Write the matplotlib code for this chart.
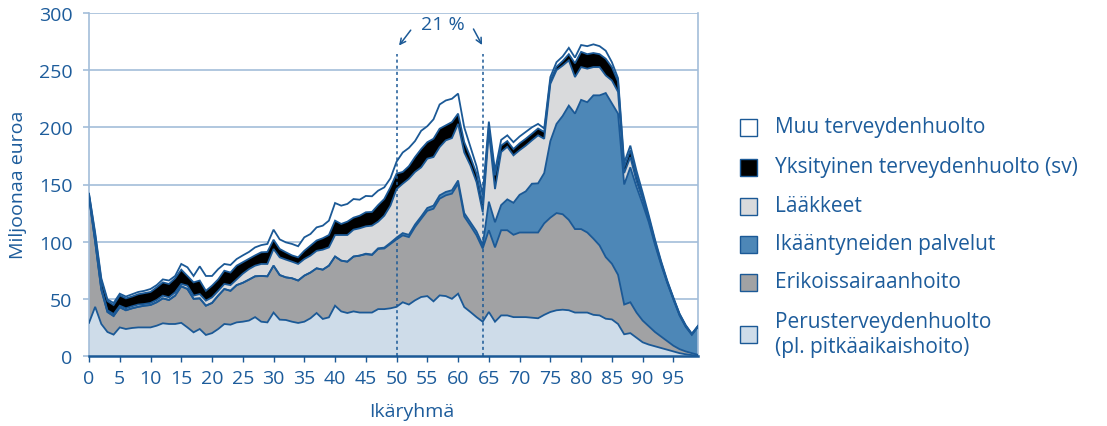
import numpy as np
import matplotlib
matplotlib.use("Agg")
import matplotlib.pyplot as plt
from matplotlib.patches import Rectangle

# ---------------- data (million euros by age group) ----------------
ages = list(range(0, 100))

# cumulative boundaries
b_perus = [29, 43, 28, 21, 18.7, 25, 23.6, 24.5, 25, 25,
           25, 26.5, 28.6, 28, 28, 29, 25, 20.7, 23.6, 18.4,
           20, 23.6, 28, 27.4, 29.4, 30, 31, 34, 30, 29.4,
           38, 31.8, 31.5, 30, 28.9, 30, 33, 37.6, 32.4, 33.8,
           44, 39, 37.6, 39, 38, 38, 38, 41, 41, 41.7,
           43, 47, 45, 48.7, 51.6, 52.4, 47.8, 53, 52.4, 50,
           54.5, 42.8, 38.5, 34, 30, 38.5, 30, 35.5, 35.5, 34,
           34, 34, 33.5, 33, 36, 38.5, 40, 40.5, 40, 38,
           38, 38, 36, 35.5, 32.6, 32, 28, 19, 20, 16,
           12, 10, 8.5, 7, 5.5, 4, 2.5, 1.5, 0.8, 0.3]
b_erik = [139, 100, 58, 38.5, 35, 42.6, 40, 41.7, 43, 44,
          44.6, 47, 50.4, 49, 52.8, 61, 58.6, 50, 50.4, 44,
          46.4, 52.8, 58.6, 57, 62, 64, 66.8, 69.7, 70, 69.7,
          79, 70.8, 68.8, 68, 66, 70.3, 73, 76.7, 75.5, 79,
          87, 83.4, 82.5, 87, 87.8, 89, 88.3, 93.6, 94, 98,
          102, 105.5, 104, 112.8, 120, 127, 128.8, 137.6, 140.5, 142,
          150.7, 122, 114, 105.5, 94, 110, 95, 110, 110, 106,
          108, 108, 108, 108, 116, 121, 125, 124, 119, 111,
          111, 108, 102.6, 96.7, 86.5, 80.7, 71, 45, 47, 38,
          31, 26, 21, 17, 13, 9, 6, 4, 2.5, 1]
b_ikaa = [139, 100, 58, 38.5, 35, 42.6, 40, 41.7, 43, 44,
          44.6, 47, 50.4, 49, 52.8, 61, 58.6, 50, 50.4, 44,
          46.4, 52.8, 58.6, 57, 62, 64, 66.8, 69.7, 70, 69.7,
          79, 70.8, 68.8, 68, 66, 70.3, 73, 76.7, 75.5, 79,
          87, 83.4, 82.5, 87, 87.8, 89.5, 88.8, 94.2, 94.8, 99,
          103.5, 107.5, 106, 115, 122, 129.5, 131.5, 140.5, 143.5, 145,
          153.5, 125, 117, 109, 97, 135, 117, 132, 137, 134,
          141, 144, 150.7, 151, 160, 188, 203, 210, 219, 212,
          224, 222, 228, 228, 230, 221, 212, 150, 165, 148,
          133, 117, 97.5, 80, 64, 49.5, 35.5, 25.5, 18.5, 25.5]
b_laak = [140, 102, 60, 40, 36.7, 44, 41.7, 43.5, 45, 45.5,
          46.4, 49, 52.8, 51.3, 55.7, 63, 61.5, 52.8, 54.2, 48.4,
          51.3, 57, 63, 62, 67, 72, 76, 79, 80.5, 80.5,
          93.6, 86.3, 84.3, 82.5, 80.5, 84.8, 87.8, 92, 93, 95,
          105.8, 105.8, 105.8, 110.5, 111.7, 113.4, 114, 117.5, 122.7, 131.5,
          146, 150.7, 155, 161, 165, 172.6, 174, 182.7, 188.6, 190.6,
          203, 178, 166.7, 152, 126, 196, 146, 178.4, 183, 175.5,
          180, 184, 188.6, 193, 190, 238, 250, 254, 258.6, 244,
          252.7, 251.3, 252.7, 252.7, 245.4, 241, 231, 160, 174, 153,
          137, 119, 99, 81, 64.5, 50, 36, 26, 19, 25.8]
b_yksi = [141.5, 106, 66, 48, 44.6, 53, 50.4, 52, 54, 55,
          56, 60, 64.4, 63, 68, 75.5, 70, 64.4, 66, 57,
          61.5, 67, 74.6, 73, 79, 82, 85, 88, 90.7, 91,
          101.7, 93.6, 90.7, 88, 86.3, 92, 96.5, 101, 103, 105.8,
          118.4, 115.5, 117.5, 121, 122.7, 125.7, 126, 132, 137.3, 147.5,
          159.5, 161, 166, 174, 181, 187, 190, 198.8, 201.7, 204.6,
          212, 187, 174, 159.5, 133, 200, 158, 184, 188, 181,
          186, 190, 194.4, 199, 196, 241, 253, 258, 264, 256,
          266, 264, 265, 264, 260, 252.7, 240, 165, 180, 158,
          140, 121, 100.5, 82, 65, 50.5, 36.5, 26.5, 19.2, 26]
b_muu = [142, 108, 68, 49.5, 46.4, 54.5, 52, 54, 56, 57,
         58.6, 62, 67, 66, 70, 80.5, 77.6, 70, 78.4, 70,
         70, 76, 80.5, 79.6, 84.8, 88, 91, 95, 97, 98,
         110.5, 102, 99.4, 98, 96, 103.8, 106.7, 112.5, 114, 118.4,
         133.8, 131.5, 133, 137.3, 136.7, 140, 139.7, 144.6, 147.5, 155.4,
         170, 178, 182, 188, 197, 201, 207, 220, 223.5, 225,
         229.5, 200, 183, 166, 141, 205, 162, 189, 193, 187,
         192, 196, 200, 203, 199, 244, 257, 262, 269.5, 261,
         272, 271, 272.6, 271, 267, 257, 243, 169, 184, 162,
         143, 123, 102, 83, 66, 51, 37, 27, 19.5, 26.5]

# individual series derived from the boundaries
perus = np.array(b_perus)
erikois = np.array(b_erik) - np.array(b_perus)
ikaantyneet = np.array(b_ikaa) - np.array(b_erik)
laakkeet = np.array(b_laak) - np.array(b_ikaa)
yksityinen = np.array(b_yksi) - np.array(b_laak)
muu = np.array(b_muu) - np.array(b_yksi)

series = [perus, erikois, ikaantyneet, laakkeet, yksityinen, muu]
series_colors = ["#cedce9", "#a1a2a4", "#4d87b7", "#d9dadc", "#000000", "#ffffff"]
legend_labels = ["Muu terveydenhuolto", "Yksityinen terveydenhuolto (sv)", "Lääkkeet",
                 "Ikääntyneiden palvelut", "Erikoissairaanhoito",
                 "Perusterveydenhuolto\n(pl. pitkäaikaishoito)"]
legend_colors = ["#ffffff", "#000000", "#d9dadc", "#4d87b7", "#a1a2a4", "#cedce9"]

xticks = list(range(0, 100, 5))
yticks = [0, 50, 100, 150, 200, 250, 300]
marks = [50, 64]
share_text = "21 %"

LINE = "#1b5996"
GRID = "#a3bdd9"
TXT = "#1d5c9b"

plt.rcParams['font.family'] = ['Open Sans', 'DejaVu Sans']

fig = plt.figure(figsize=(11.07, 4.27), dpi=100)
W, H = 1107, 427
ax = fig.add_axes([89 / W, 1 - 357 / H, (698 - 89) / W, (357 - 14) / H])

x = np.array(ages)
ax.stackplot(x, *series, colors=series_colors, linewidth=0, zorder=2)
cum = np.cumsum(np.vstack(series), axis=0)
for row in cum:
    ax.plot(x, row, color=LINE, lw=1.3, zorder=3, solid_joinstyle='miter')

for m in marks:
    ax.plot([m, m], [0, 264], color=LINE, lw=1.1, ls=(0, (2, 2)), zorder=4)

ax.set_xlim(0, 99)
ax.set_ylim(0, 300)
ax.set_yticks(yticks)
ax.set_xticks(xticks)
ax.grid(axis='y', color=GRID, lw=1.2, zorder=1)
ax.set_axisbelow(True)
for s in ['left', 'right', 'top']:
    ax.spines[s].set_color(GRID)
    ax.spines[s].set_linewidth(1.2)
ax.spines['top'].set_visible(False)
ax.spines['bottom'].set_color(LINE)
ax.spines['bottom'].set_linewidth(1.8)
ax.spines['bottom'].set_zorder(5)
ax.tick_params(axis='x', colors=LINE, length=4, width=1, pad=5, labelsize=14, labelcolor=TXT)
ax.tick_params(axis='y', colors=GRID, length=4, width=1.2, pad=8, labelsize=14, labelcolor=TXT)

# annotation 21 %
ax.text(57.6, 290.5, share_text, ha='center', va='center', fontsize=14, color=TXT)
ax.annotate("", xy=(50.4, 271.5), xytext=(52.3, 285),
            arrowprops=dict(arrowstyle='->', color=LINE, lw=1.1, shrinkA=0, shrinkB=0))
ax.annotate("", xy=(63.9, 272), xytext=(62.5, 286),
            arrowprops=dict(arrowstyle='->', color=LINE, lw=1.1, shrinkA=0, shrinkB=0))

fig.text(18 / W, 1 - 185 / H, "Miljoonaa euroa", rotation=90, ha='center', va='center',
         fontsize=14, color=TXT)
fig.text(412 / W, 1 - 412 / H, "Ikäryhmä", ha='center', va='center', fontsize=14, color=TXT)

# legend drawn manually
rows = [128, 168, 207, 245, 283, 335]
sq = 17
for lab, col, yc in zip(legend_labels, legend_colors, rows):
    fig.add_artist(Rectangle((740 / W, 1 - (yc + sq / 2) / H), sq / W, sq / H,
                             transform=fig.transFigure, facecolor=col,
                             edgecolor=LINE, lw=1.0))
    fig.text(775 / W, 1 - yc / H, lab, ha='left', va='center', fontsize=15,
             color=TXT, linespacing=1.25)

fig.savefig("out.png", dpi=100)
